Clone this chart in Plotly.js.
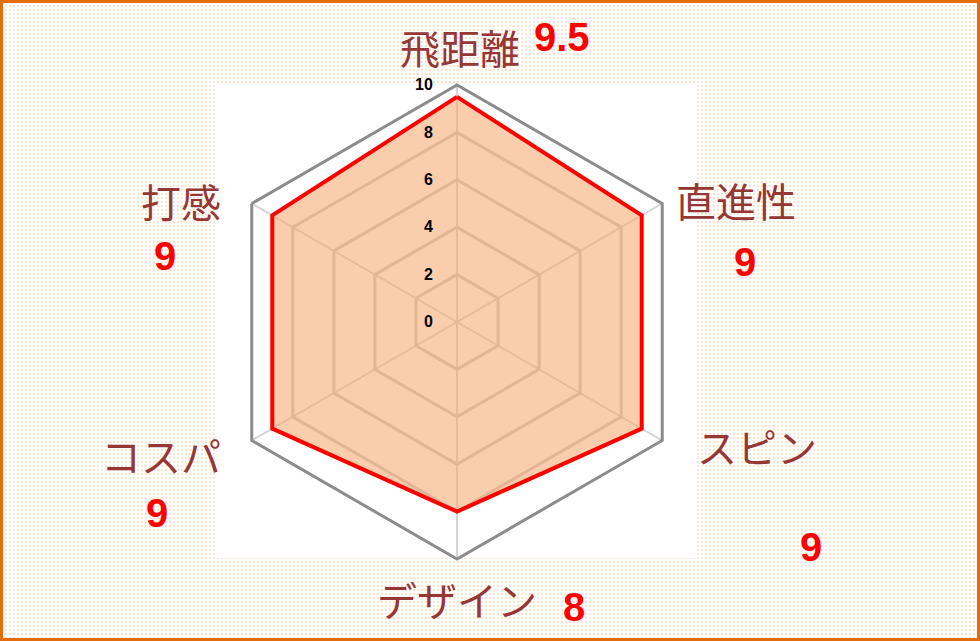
<!DOCTYPE html>
<html>
<head>
<meta charset="utf-8">
<script src="https://cdn.plot.ly/plotly-3.0.1.min.js"></script>
<style>
  body { margin: 0; }
  #wrap {
    position: relative; width: 980px; height: 641px;
    background-color: #ffffff;
    background-image: radial-gradient(#fde4cf 0.8px, transparent 1.1px);
    background-size: 4px 4px;
  }
  #chart { position: absolute; left: 0; top: 0; width: 980px; height: 641px; }
  #frame {
    position: absolute; left: 0; top: 0; width: 980px; height: 641px;
    box-sizing: border-box; border: 3px solid #e46c0a; pointer-events: none;
  }
</style>
</head>
<body>
<div id="wrap">
  <div id="chart"></div>
  <div id="frame"></div>
</div>
<script>
// Radar data (clockwise from top)
var categories = ['飛距離', '直進性', 'スピン', 'デザイン', 'コスパ', '打感'];
var scores = [9.5, 9, 9, 8, 9, 9];
var valueLabels = ['9.5', '9', '9', '8', '9', '9'];
var radialTicks = [0, 2, 4, 6, 8, 10];

// Label positions in pixels on the 980x641 picture
var labelPos = [[460, 47], [736, 200], [757, 446], [457, 599], [161, 455], [181, 201]];
var valuePos = [[562, 37], [745, 262], [811, 547], [574, 607], [157, 513], [165, 256]];

// Plot area (white box) in pixels
var box = {l: 220, t: 85, w: 474, h: 474};

function px(x) { return (x - box.l) / box.w; }
function py(y) { return (box.t + box.h - y) / box.h; }

var annotations = [];
categories.forEach(function (c, i) {
  annotations.push({
    text: c, xref: 'paper', yref: 'paper',
    x: px(labelPos[i][0]), y: py(labelPos[i][1]),
    xanchor: 'center', yanchor: 'middle', showarrow: false,
    font: {family: 'Noto Sans CJK JP', size: 40, color: '#953735'}
  });
  annotations.push({
    text: '<b>' + valueLabels[i] + '</b>', xref: 'paper', yref: 'paper',
    x: px(valuePos[i][0]), y: py(valuePos[i][1]),
    xanchor: 'center', yanchor: 'middle', showarrow: false,
    font: {family: 'Liberation Sans', size: 40, color: '#ff0000'}
  });
});

var trace = {
  type: 'scatterpolar',
  mode: 'lines',
  r: scores.concat([scores[0]]),
  theta: categories.concat([categories[0]]),
  fill: 'toself',
  fillcolor: 'rgba(246,166,105,0.55)',
  line: {color: '#ff0000', width: 4},
  hoverinfo: 'skip'
};

Plotly.newPlot('chart', [trace], {
  width: 980,
  height: 641,
  margin: {l: box.l, r: 980 - box.l - box.w, t: box.t, b: 641 - box.t - box.h},
  paper_bgcolor: 'rgba(0,0,0,0)',
  showlegend: false,
  shapes: [{
    type: 'rect', xref: 'paper', yref: 'paper', x0: -0.006, x1: 1.002, y0: 0.002, y1: 1,
    fillcolor: '#ffffff', line: {width: 0}, layer: 'below'
  }],
  polar: {
    bgcolor: 'rgba(0,0,0,0)',
    gridshape: 'linear',
    domain: {x: [0, 1], y: [0, 1]},
    radialaxis: {
      range: [0, 10],
      tickvals: radialTicks,
      angle: 90,
      tickangle: 90,
      side: 'counterclockwise',
      showline: false,
      ticks: 'outside',
      ticklen: 18,
      tickcolor: 'rgba(0,0,0,0)',
      gridcolor: '#c9c9c9',
      gridwidth: 3,
      tickfont: {family: 'Liberation Sans', size: 16, color: '#000000', weight: 'bold'}
    },
    angularaxis: {
      rotation: 90,
      direction: 'clockwise',
      showticklabels: false,
      ticks: '',
      showline: true,
      linecolor: '#8c8c8c',
      linewidth: 3,
      gridcolor: '#d4d4d4',
      gridwidth: 2
    }
  },
  annotations: annotations
}, {staticPlot: true});
</script>
</body>
</html>
